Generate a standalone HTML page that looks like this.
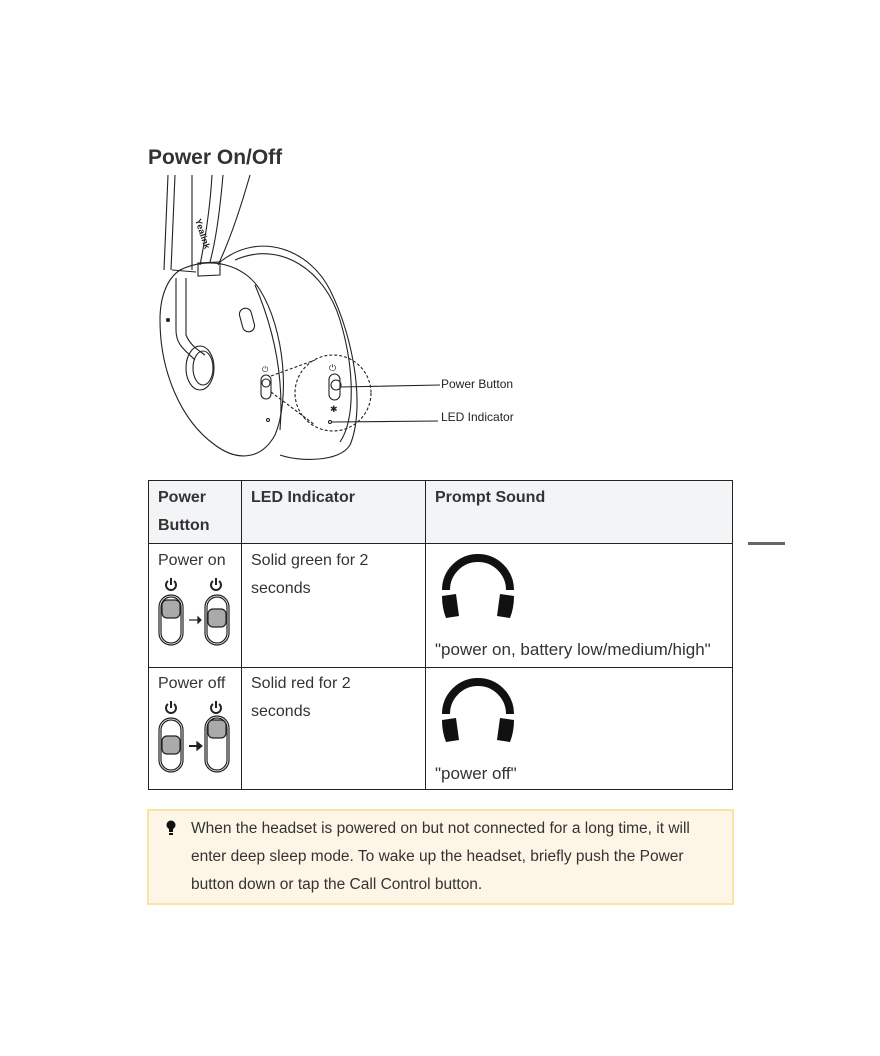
<!DOCTYPE html>
<html><head><meta charset="utf-8"><style>
body{margin:0;width:880px;height:1056px;background:#fff;font-family:"Liberation Sans",sans-serif;color:#333;position:relative;overflow:hidden}
.t{position:absolute;font-size:16px;line-height:28px}
.ab{position:absolute}
</style></head><body>
<div class="ab" style="left:148px;top:146px;font-size:21px;font-weight:bold;color:#333">Power On/Off</div>

<svg class="ab" style="left:140px;top:170px" width="400" height="295" viewBox="0 0 400 295" fill="none" stroke="#222" stroke-width="1.1">
<!-- headband -->
<path d="M28 5 L24 100 M35 5 L31 100 M52 5 L52 100"/>
<path d="M72 5 C70 40 65 70 60 95 M83 5 C80 40 76 70 70 92 M110 5 C100 40 90 70 78 95"/>
<path d="M58 93 L80 92 L80 105 L58 106Z"/>
<path d="M32 100 L56 102"/>
<!-- earcup back rim -->
<path d="M80 92 C120 60 170 80 190 120 C215 170 225 240 210 275 C200 292 160 292 140 285"/>
<path d="M95 90 C140 70 185 100 200 150 C215 200 215 250 200 272"/>
<!-- earcup front -->
<path d="M40 100 C70 85 105 95 120 120 C145 160 150 230 135 265 C120 292 95 290 75 275 C40 250 20 200 20 150 C20 125 28 108 40 100Z"/>
<path d="M115 115 C130 150 145 200 140 260"/>
<path d="M36 108 L36 160 C36 175 45 180 55 190"/>
<path d="M46 108 L46 165 C50 175 58 180 65 185"/>
<ellipse cx="60" cy="198" rx="14" ry="22"/>
<ellipse cx="63" cy="198" rx="10" ry="17"/>
<rect x="101" y="138" width="12" height="24" rx="6" transform="rotate(-15 107 150)"/>
<circle cx="28" cy="150" r="1.5" fill="#222"/>
<!-- side power -->
<rect x="121" y="205" width="10" height="24" rx="5"/>
<circle cx="126" cy="213" r="4"/>
<circle cx="128" cy="250" r="1.5"/>
<text x="122" y="202" font-size="8" fill="#222" stroke="none">⏻</text>
<!-- magnifier -->
<circle cx="193" cy="223" r="38" stroke-dasharray="3 2"/>
<path d="M131 206 L175 190 M131 222 L175 255" stroke-dasharray="3 2"/>
<rect x="189" y="204" width="11" height="26" rx="5.5"/>
<circle cx="196" cy="215" r="5"/>
<text x="189" y="201" font-size="9" fill="#222" stroke="none">⏻</text>
<text x="190" y="242" font-size="9" fill="#222" stroke="none">✱</text>
<circle cx="190" cy="252" r="1.5"/>
<path d="M200 217 L300 215 M192 252 L298 251"/>
<text x="55" y="50" font-size="9" font-weight="bold" fill="#222" stroke="none" transform="rotate(72 55 50)">Yealink</text>
</svg>
<div class="ab" style="left:441px;top:377px;font-size:12px;color:#222">Power Button</div>
<div class="ab" style="left:441px;top:410px;font-size:12px;color:#222">LED Indicator</div>

<div class="ab" style="left:748px;top:542px;width:37px;height:3px;background:#666"></div>

<div class="ab" style="left:148px;top:480px;width:585px;height:63px;background:#f3f4f6"></div>
<div class="ab" style="left:148px;top:480px;width:585px;height:310px;border:1px solid #222;box-sizing:border-box"></div>
<div class="ab" style="left:148px;top:543px;width:585px;height:1px;background:#222"></div>
<div class="ab" style="left:148px;top:667px;width:585px;height:1px;background:#222"></div>
<div class="ab" style="left:241px;top:480px;width:1px;height:310px;background:#222"></div>
<div class="ab" style="left:425px;top:480px;width:1px;height:310px;background:#222"></div>

<div class="t" style="left:158px;top:484px;font-weight:bold">Power<br>Button</div>
<div class="t" style="left:251px;top:484px;font-weight:bold">LED Indicator</div>
<div class="t" style="left:435px;top:484px;font-weight:bold">Prompt Sound</div>

<div class="t" style="left:158px;top:547px">Power on</div>
<div class="t" style="left:251px;top:547px">Solid green for 2<br>seconds</div>
<div class="t" style="left:435px;top:636px;font-size:17px">"power on, battery low/medium/high"</div>
<div class="t" style="left:158px;top:670px">Power off</div>
<div class="t" style="left:251px;top:670px">Solid red for 2<br>seconds</div>
<div class="t" style="left:435px;top:760px;font-size:17px">"power off"</div>

<svg class="ab" style="left:155px;top:575px" width="80" height="80" viewBox="0 0 80 80" stroke="#222" fill="none" stroke-width="1.2">
<g stroke-width="2"><path d="M13 6 A5 5 0 1 0 19 6"/><path d="M16 3 L16 10"/><path d="M58 6 A5 5 0 1 0 64 6"/><path d="M61 3 L61 10"/></g>
<rect x="4" y="20" width="24" height="50" rx="12"/><rect x="6" y="22" width="20" height="46" rx="10"/>
<rect x="7" y="25" width="18" height="18" rx="5" fill="#aaa"/>
<rect x="50" y="20" width="24" height="50" rx="12"/><rect x="52" y="22" width="20" height="46" rx="10"/>
<rect x="53" y="34" width="18" height="18" rx="5" fill="#aaa"/>
<path d="M34 45 L43 45"/><path d="M43 42 L46 45 L43 48Z" fill="#222"/>
</svg>
<svg class="ab" style="left:155px;top:698px" width="80" height="80" viewBox="0 0 80 80" stroke="#222" fill="none" stroke-width="1.2">
<g stroke-width="2"><path d="M13 6 A5 5 0 1 0 19 6"/><path d="M16 3 L16 10"/><path d="M58 6 A5 5 0 1 0 64 6"/><path d="M61 3 L61 10"/></g>
<rect x="4" y="20" width="24" height="54" rx="12"/><rect x="6" y="22" width="20" height="50" rx="10"/>
<rect x="7" y="38" width="18" height="18" rx="5" fill="#aaa"/>
<rect x="50" y="18" width="24" height="56" rx="12"/><rect x="52" y="20" width="20" height="52" rx="10"/>
<rect x="53" y="22" width="18" height="18" rx="5" fill="#aaa"/>
<path d="M34 48 L43 48" stroke-width="2"/><path d="M42 44 L47 48 L42 52Z" fill="#222"/>
</svg>

<svg class="ab" style="left:438px;top:548px" width="80" height="74" viewBox="0 0 80 74">
<path d="M8 42 A32 32 0 0 1 72 42" stroke="#111" stroke-width="8" fill="none"/>
<path d="M4 48 L18 46 L21 68 L8 70 Q4 60 4 48Z" fill="#111"/>
<path d="M76 48 L62 46 L59 68 L72 70 Q76 60 76 48Z" fill="#111"/>
</svg>
<svg class="ab" style="left:438px;top:672px" width="80" height="74" viewBox="0 0 80 74">
<path d="M8 42 A32 32 0 0 1 72 42" stroke="#111" stroke-width="8" fill="none"/>
<path d="M4 48 L18 46 L21 68 L8 70 Q4 60 4 48Z" fill="#111"/>
<path d="M76 48 L62 46 L59 68 L72 70 Q76 60 76 48Z" fill="#111"/>
</svg>

<div class="ab" style="left:147px;top:809px;width:587px;height:96px;background:#fdf6e6;border:2px solid #fbe3a6;box-sizing:border-box"></div>
<svg class="ab" style="left:164px;top:820px" width="14" height="16" viewBox="0 0 14 16"><circle cx="7" cy="5" r="4.5" fill="#111"/><rect x="5" y="8" width="4" height="4" fill="#111"/><rect x="5" y="13" width="4" height="2" fill="#111"/></svg>
<div class="t" style="left:191px;top:815px;width:530px;font-size:15.5px;color:#333">When the headset is powered on but not connected for a long time, it will enter deep sleep mode. To wake up the headset, briefly push the Power button down or tap the Call Control button.</div>
</body></html>
